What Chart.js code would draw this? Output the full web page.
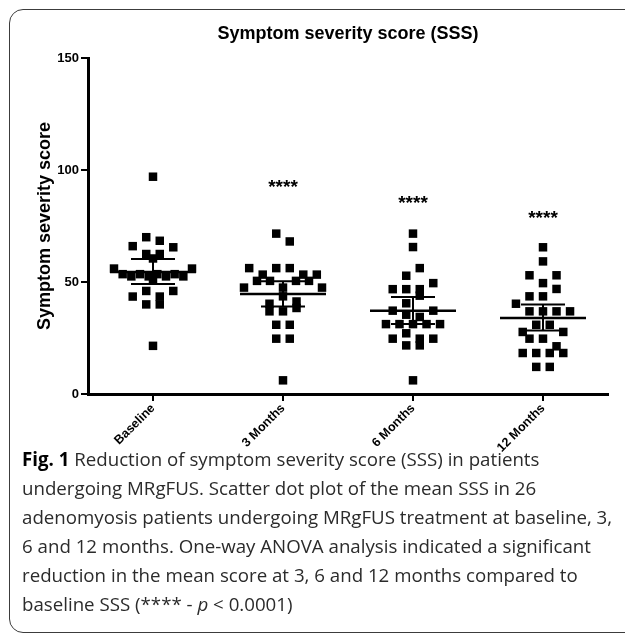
<!DOCTYPE html>
<html>
<head>
<meta charset="utf-8">
<script src="https://cdn.jsdelivr.net/npm/chart.js@4.4.1/dist/chart.umd.min.js"></script>
<style>
  html, body { margin: 0; padding: 0; background: #fff; }
  body { width: 625px; height: 637px; position: relative; overflow: hidden; }
  #marco {
    position: absolute; left: 9px; top: 9px; width: 640px; height: 624px;
    border: 1.5px solid #3c3c3c; border-radius: 14px; box-sizing: border-box;
  }
  #grafica { position: absolute; left: 0; top: 0; width: 625px; height: 470px; }
  #leyenda {
    position: absolute; left: 22px; top: 444px;
    font-family: "Open Sans", sans-serif; font-size: 18.7px; line-height: 29px;
    color: #2b2b2b; white-space: nowrap;
  }
  #leyenda b { color: #000; }
</style>
</head>
<body>
<div id="marco"></div>
<div id="grafica"><canvas id="GraficaCanvas"></canvas></div>
<div id="leyenda">
  <b>Fig. 1</b> Reduction of symptom severity score (SSS) in patients<br>
  undergoing MRgFUS. Scatter dot plot of the mean SSS in 26<br>
  adenomyosis patients undergoing MRgFUS treatment at baseline, 3,<br>
  6 and 12 months. One-way ANOVA analysis indicated a significant<br>
  reduction in the mean score at 3, 6 and 12 months compared to<br>
  baseline SSS (**** - <i>p</i> &lt; 0.0001)
</div>
<script>
const categorias = ["Baseline", "3 Months", "6 Months", "12 Months"];

// puntuaciones individuales (26 pacientes por momento)
const basal = [97, 70, 68.4, 66, 62.5, 62.5, 65.5, 60.5, 56, 53.5, 52.5, 53.5, 52.5, 53.5, 52.5, 53.5, 52.5, 56,
  51, 43.5, 46, 43.5, 46, 40, 40, 21.5];
const tresMeses = [71.6, 68.1, 56.2, 53.3, 56.2, 56.2, 53.3, 53.3, 47.5, 50.5, 50.5, 47.5, 50.5, 50.5, 47.5,
  40.3, 43.6, 41.3, 36.9, 36.9, 38.4, 30.9, 30.9, 24.7, 24.7, 6.1];
const seisMeses = [71.6, 65.6, 52.8, 56.2, 46.8, 46.8, 46.8, 49.5, 40.5, 43.9, 37.2, 35.4, 34.4, 37.2,
  31.2, 31.2, 31.2, 31.2, 31.2, 24.7, 27.1, 24.7, 24.7, 21.7, 21.7, 6.1];
const doceMeses = [65.5, 59.2, 53, 49.5, 53, 43.6, 43.6, 46.9, 40.3, 36.9, 36.9, 36.9, 36.9, 27.7, 30.9,
  30.9, 27.7, 24.7, 24.7, 21.3, 18.3, 18.3, 18.3, 18.3, 12.1, 12.1];

// media e intervalo de confianza
const medias = [54.5, 44.6, 37.2, 33.9];
const icBajo = [49.1, 39.1, 31.2, 28.3];
const icAlto = [60.3, 50.3, 43.3, 39.9];

// asteriscos de significacion
const significancia = ["", "****", "****", "****"];
const alturaSignif = [null, 94, 87, 80];

const yTicks = [0, 50, 100, 150];

const PASO = 0.104;
const ANCHO_MAX = 0.6;
const TOLERANCIA = 4;

// reparte en horizontal los puntos con valores parecidos (como el scatter dot plot)
function repartir(valores, indice) {
  const orden = valores.map((v, k) => k).sort((a, b) => valores[b] - valores[a]);
  const filas = [];
  orden.forEach((k) => {
    const fila = filas[filas.length - 1];
    if (fila && valores[fila[0]] - valores[k] < TOLERANCIA) fila.push(k);
    else filas.push([k]);
  });
  const puntos = [];
  filas.forEach((fila) => {
    fila.sort((a, b) => a - b);
    const paso = fila.length > 1 ? Math.min(PASO, ANCHO_MAX / (fila.length - 1)) : 0;
    fila.forEach((k, j) => {
      puntos.push({ x: indice + (j - (fila.length - 1) / 2) * paso, y: valores[k] });
    });
  });
  return puntos;
}

const puntos = [basal, tresMeses, seisMeses, doceMeses].flatMap((serie, i) => repartir(serie, i));

const marcasMedia = {
  id: "marcasMedia",
  afterDatasetsDraw(chart) {
    const { ctx, scales: { x, y } } = chart;
    ctx.save();
    ctx.strokeStyle = "#000";
    medias.forEach((m, i) => {
      const cx = x.getPixelForValue(i);
      const ym = y.getPixelForValue(m);
      const yl = y.getPixelForValue(icBajo[i]);
      const yh = y.getPixelForValue(icAlto[i]);
      ctx.lineWidth = 2.5;
      ctx.beginPath();
      ctx.moveTo(cx - 43, ym);
      ctx.lineTo(cx + 43, ym);
      ctx.stroke();
      ctx.lineWidth = 2;
      ctx.beginPath();
      ctx.moveTo(cx, yh);
      ctx.lineTo(cx, yl);
      ctx.moveTo(cx - 22, yh);
      ctx.lineTo(cx + 22, yh);
      ctx.moveTo(cx - 22, yl);
      ctx.lineTo(cx + 22, yl);
      ctx.stroke();
    });

    ctx.fillStyle = "#000";
    ctx.font = "bold 19px 'Liberation Sans'";
    ctx.textAlign = "center";
    ctx.textBaseline = "alphabetic";
    significancia.forEach((txt, i) => {
      if (!txt) return;
      const m = ctx.measureText(txt);
      const cy = y.getPixelForValue(alturaSignif[i]);
      const base = cy + (m.actualBoundingBoxAscent - m.actualBoundingBoxDescent) / 2;
      ctx.fillText(txt, x.getPixelForValue(i), base);
    });
    ctx.restore();
  },
};

const fuenteY = { family: "'Liberation Sans', Arial, sans-serif", weight: "bold", size: 13 };
const fuenteX = { family: "'Liberation Sans', Arial, sans-serif", weight: "bold", size: 12.5 };

new Chart(document.getElementById("GraficaCanvas"), {
  type: "scatter",
  data: {
    datasets: [
      {
        label: "SSS",
        data: puntos,
        pointStyle: "rect",
        pointRadius: 6,
        pointHoverRadius: 6,
        backgroundColor: "#000",
        borderWidth: 0,
      },
    ],
  },
  options: {
    responsive: true,
    maintainAspectRatio: false,
    animation: false,
    events: [],
    layout: { padding: { left: 0, right: 17, top: 0, bottom: 0 } },
    scales: {
      x: {
        type: "linear",
        min: -0.5,
        max: 3.5,
        afterBuildTicks: (scale) => {
          scale.ticks = categorias.map((c, i) => ({ value: i }));
        },
        afterFit: (scale) => {
          scale.height = 76;
        },
        ticks: {
          autoSkip: false,
          minRotation: 45,
          maxRotation: 45,
          padding: 0,
          color: "#000",
          font: fuenteX,
          callback: (v) => categorias[v],
        },
        grid: { drawOnChartArea: false, drawTicks: true, tickLength: 7, color: "#000", lineWidth: 2 },
        border: { display: true, color: "#000", width: 3 },
      },
      y: {
        min: 0,
        max: 150,
        afterBuildTicks: (scale) => {
          scale.ticks = yTicks.map((v) => ({ value: v }));
        },
        afterFit: (scale) => {
          scale.width = 88;
        },
        ticks: { color: "#000", font: fuenteY, padding: 2 },
        grid: { drawOnChartArea: false, drawTicks: true, tickLength: 7, color: "#000", lineWidth: 2 },
        border: { display: true, color: "#000", width: 3 },
        title: {
          display: true,
          text: "Symptom severity score",
          color: "#000",
          font: { family: "'Liberation Sans', Arial, sans-serif", weight: "bold", size: 18 },
          padding: { top: 34, bottom: 0 },
        },
      },
    },
    plugins: {
      legend: { display: false },
      tooltip: { enabled: false },
      title: {
        display: true,
        fullSize: false,
        text: "Symptom severity score (SSS)",
        color: "#000",
        font: { family: "'Liberation Sans', Arial, sans-serif", weight: "bold", size: 18 },
        padding: { top: 23, bottom: 13.4 },
      },
    },
  },
  plugins: [marcasMedia],
});
</script>
</body>
</html>
